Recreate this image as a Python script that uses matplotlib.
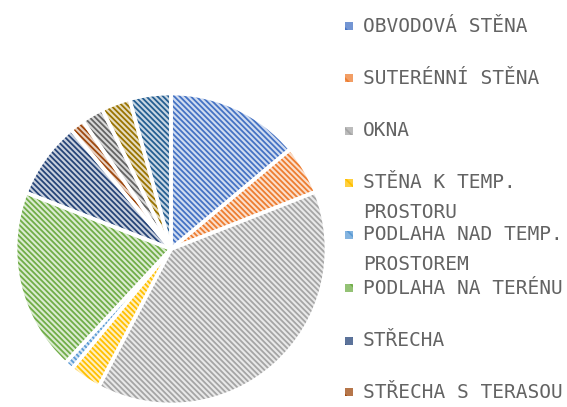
import matplotlib.pyplot as plt
from matplotlib.colors import to_rgb
from matplotlib.patches import Rectangle

# podíl tepelných ztrát podle konstrukcí (%)
labels = ['OBVODOVÁ STĚNA', 'SUTERÉNNÍ STĚNA', 'OKNA', 'STĚNA K TEMP.\nPROSTORU',
          'PODLAHA NAD TEMP.\nPROSTOREM', 'PODLAHA NA TERÉNU', 'STŘECHA', 'STŘECHA S TERASOU']
values = [13.9, 5.1, 38.7, 3.3, 0.9, 19.0, 8.0, 1.5, 2.3, 3.0, 4.3]
colors = ['#4472C4', '#ED7D31', '#A5A5A5', '#FFC000', '#5B9BD5', '#70AD47',
          '#264478', '#9E480E', '#636363', '#997300', '#255E91']


def tint(c, k=0.72):
    r, g, b = to_rgb(c)
    return (r + (1 - r) * k, g + (1 - g) * k, b + (1 - b) * k)


plt.rcParams['hatch.linewidth'] = 1.3
plt.rcParams['font.family'] = 'DejaVu Sans Mono'

fig = plt.figure(figsize=(5.67, 4.07), dpi=100)
cx, cy, rad = 171, 249, 157
W, H = 567, 407
ax = fig.add_axes([(cx - rad) / W, (H - cy - rad) / H, 2 * rad / W, 2 * rad / H])

# vrstva se šrafováním
wedges, _ = ax.pie(values, startangle=90, counterclock=False,
                   colors=[tint(c, 0.75) for c in colors],
                   wedgeprops=dict(linewidth=0))
for w, c in zip(wedges, colors):
    w.set_hatch('\\' * 6)
    w.set_edgecolor(c)
    w.set_linewidth(0)

# bílé oddělovací okraje
ax.pie(values, startangle=90, counterclock=False, colors=['none'] * len(values),
       wedgeprops=dict(edgecolor='white', linewidth=2.6))
ax.set_xlim(-1.01, 1.01)
ax.set_ylim(-1.01, 1.01)
ax.set_aspect('equal')

# legenda
ys = [26, 78, 131, 183, 235, 288, 341, 392]
s = 8
for lab, c, y in zip(labels, colors, ys):
    fig.patches.append(Rectangle(((353 - s) / W, (H - y - s / 2) / H), s / W, s / H,
                                 transform=fig.transFigure, facecolor=tint(c, 0.25),
                                 edgecolor=c, hatch='\\\\', linewidth=0))
    for i, ln in enumerate(lab.split('\n')):
        fig.text(363 / W, (H - y - i * 29) / H, ln, ha='left', va='center',
                 fontsize=14, color='#636363')

fig.savefig('out.png', dpi=100)
